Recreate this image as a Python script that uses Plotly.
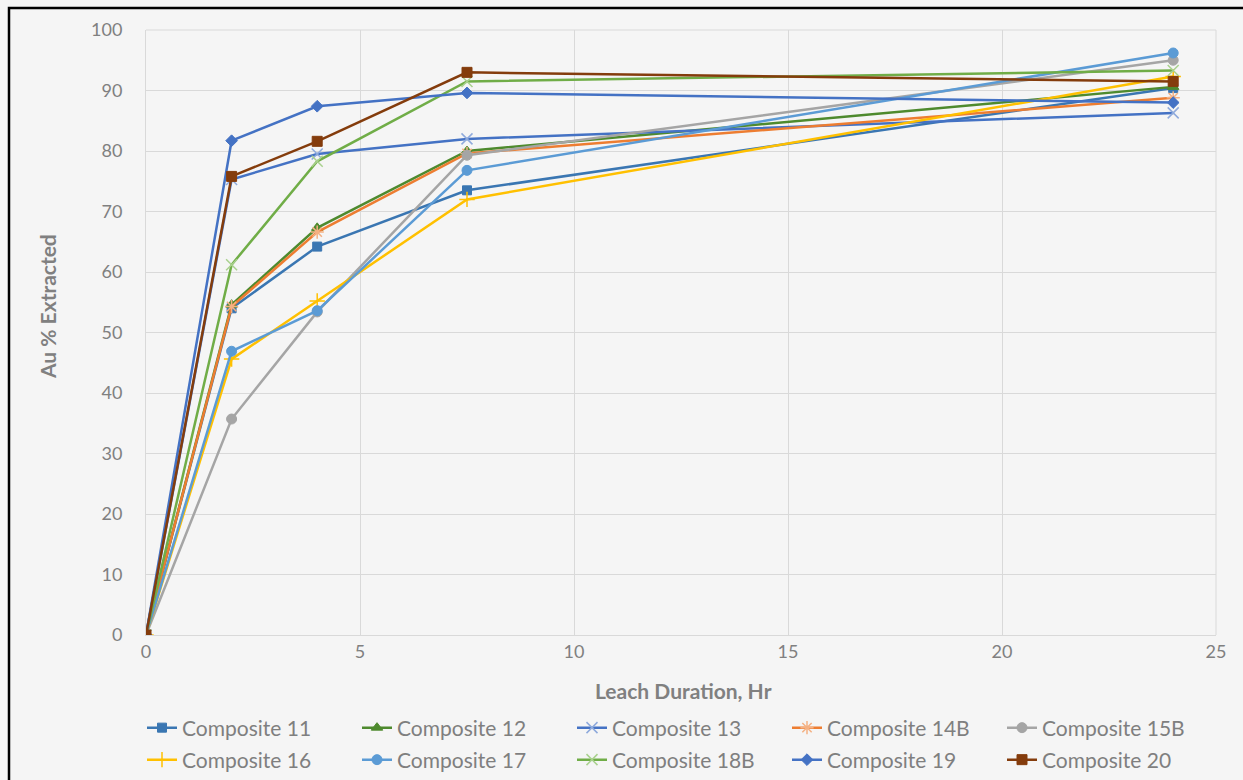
import plotly.graph_objects as go

# Leach duration (hours) at each sampling point
hours = [0, 2, 4, 7.5, 24]

# Au extraction (%) per composite
comp_11 = [0, 54.0, 64.2, 73.5, 90.4]
comp_12 = [0, 54.6, 67.3, 80.0, 90.6]
comp_13 = [0, 75.3, 79.5, 82.0, 86.3]
comp_14b = [0, 54.3, 66.6, 79.6, 88.8]
comp_15b = [0, 35.7, 53.4, 79.3, 95.0]
comp_16 = [0, 45.6, 55.2, 72.0, 92.3]
comp_17 = [0, 46.9, 53.6, 76.8, 96.2]
comp_18b = [0, 61.2, 78.3, 91.5, 93.3]
comp_19 = [0, 81.7, 87.4, 89.6, 88.0]
comp_20 = [0, 75.8, 81.6, 93.0, 91.5]

series_names = ["Composite 11", "Composite 12", "Composite 13", "Composite 14B", "Composite 15B",
                "Composite 16", "Composite 17", "Composite 18B", "Composite 19", "Composite 20"]
series_values = [comp_11, comp_12, comp_13, comp_14b, comp_15b,
                 comp_16, comp_17, comp_18b, comp_19, comp_20]

# line colour, marker symbol, marker colour, marker size
styles = [
    ("#3A76B2", "square", "#3A76B2", 9),
    ("#4E8A2E", "triangle-up", "#4E8A2E", 10),
    ("#4472C4", "x-thin-open", "#8FAADC", 11),
    ("#ED7D31", "asterisk-open", "#F4B183", 11),
    ("#A5A5A5", "circle", "#A5A5A5", 10),
    ("#FFC000", "cross-thin-open", "#FFC000", 11),
    ("#5B9BD5", "circle", "#5B9BD5", 10),
    ("#70AD47", "x-thin-open", "#A9D18E", 11),
    ("#4472C4", "diamond", "#4472C4", 9),
    ("#843C0C", "square", "#843C0C", 10),
]

W, H = 1243, 780
# plot area spans x 146..1216 px and y 30..635 px
L, R, T, B = 146, 27, 30, 145
PW, PH = W - L - R, H - T - B

grid = "#D9D9D9"
font_family = "Lato, Open Sans, sans-serif"
tick_font = dict(family=font_family, size=18, color="#808080")
title_font = dict(family=font_family, size=21, color="#808080")
legend_font = dict(family=font_family, size=21, color="#7F7F7F")

# legend grid: five columns, two rows (pixel positions of each entry)
legend_cols = [142, 357, 572, 787, 1002]
legend_rows = [728, 760]


def px_x(px):
    return (px - L) / PW


def px_y(py):
    return (H - B - py) / PH


fig = go.Figure()
legend_layouts = {}
for i, (name, vals) in enumerate(zip(series_names, series_values)):
    lc, sym, mc, ms = styles[i]
    marker = dict(symbol=sym, size=ms, color=mc,
                  line=dict(color=mc, width=1.5 if sym.endswith("open") else 1))
    key = f"legend{i + 2}"
    fig.add_trace(go.Scatter(
        x=hours, y=vals, name=name, mode="lines+markers",
        line=dict(color=lc, width=2.5), marker=marker, legend=key,
    ))
    legend_layouts[key] = dict(
        orientation="h", xref="container", yref="container",
        x=legend_cols[i % 5] / W, y=1 - legend_rows[i // 5] / H,
        xanchor="left", yanchor="middle",
        font=legend_font, bgcolor="rgba(0,0,0,0)", itemwidth=30,
    )

fig.update_layout(
    width=W, height=H,
    margin=dict(l=L, r=R, t=T, b=B, autoexpand=False),
    paper_bgcolor="#F5F5F5",
    plot_bgcolor="rgba(0,0,0,0)",
    showlegend=True,
    xaxis=dict(
        range=[0, 25], dtick=5, tick0=0, automargin=False,
        showgrid=True, gridcolor=grid, gridwidth=1,
        showline=True, linecolor=grid, linewidth=1,
        zeroline=False, ticks="", tickfont=tick_font,
    ),
    yaxis=dict(
        range=[0, 100], dtick=10, automargin=False,
        showgrid=True, gridcolor=grid, gridwidth=1,
        showline=True, linecolor=grid, linewidth=1,
        zeroline=False, ticks="", tickfont=tick_font, ticklabelstandoff=19,
    ),
    annotations=[
        dict(text="<b>Leach Duration, Hr</b>", showarrow=False,
             xref="paper", yref="paper", x=px_x(683), y=px_y(690),
             xanchor="center", yanchor="middle", font=title_font),
        dict(text="<b>Au % Extracted</b>", textangle=-90, showarrow=False,
             xref="paper", yref="paper", x=px_x(47), y=px_y(307),
             xanchor="center", yanchor="middle", font=title_font),
    ],
    shapes=[
        dict(type="rect", xref="paper", yref="paper",
             x0=px_x(9), x1=px_x(1300), y0=px_y(900), y1=px_y(8),
             line=dict(color="black", width=2.5), fillcolor="rgba(0,0,0,0)", layer="above"),
        dict(type="line", xref="paper", yref="paper",
             x0=1, x1=1, y0=0, y1=1, line=dict(color=grid, width=1), layer="below"),
        dict(type="line", xref="paper", yref="paper",
             x0=0, x1=1, y0=1, y1=1, line=dict(color=grid, width=1), layer="below"),
    ],
    **legend_layouts,
)

fig.write_html("out.html")
